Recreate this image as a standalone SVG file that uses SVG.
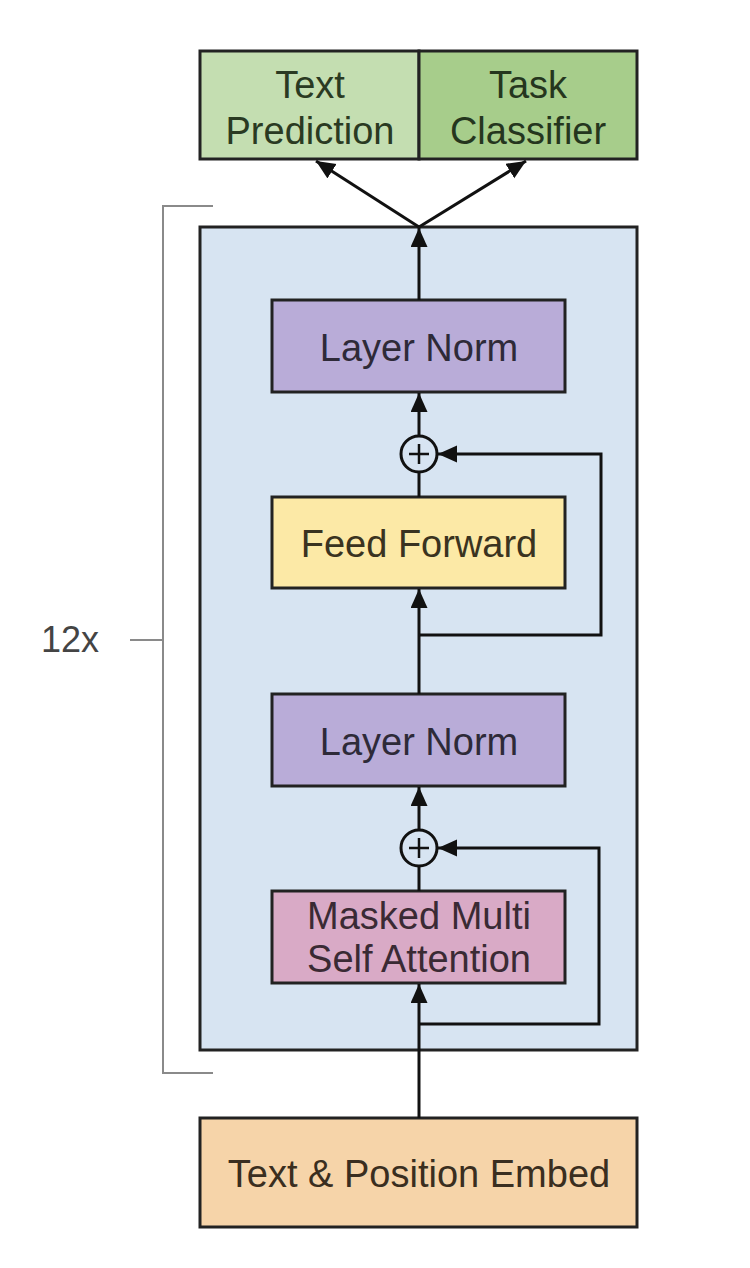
<svg xmlns="http://www.w3.org/2000/svg" width="750" height="1268" viewBox="0 0 750 1268">
<defs>
<marker id="arr" markerUnits="userSpaceOnUse" markerWidth="22" markerHeight="20" refX="19" refY="8.5" orient="auto">
<path d="M0,0 L19,8.5 L0,17 Z" fill="#111"/>
</marker>
<style>
.box{stroke:#222;stroke-width:3}
.t{font-family:"Liberation Sans",Arial,sans-serif;font-size:38px;text-anchor:middle}
.c{fill:none;stroke:#111;stroke-width:3}
.br{fill:none;stroke:#8a8a8a;stroke-width:2}
</style>
</defs>
<rect width="750" height="1268" fill="#ffffff"/>
<g id="bracket">
<path class="br" d="M213,206 H163 V1073 H213 M130,640 H163"/>
<text x="70" y="652" style="font-family:'Liberation Sans',Arial,sans-serif;font-size:36px;text-anchor:middle" fill="#444">12x</text>
</g>
<g id="block">
<rect class="box" x="200" y="227" width="437" height="823" fill="#d7e4f2"/>
</g>
<g id="text-prediction">
<rect class="box" x="200" y="51" width="219" height="108" fill="#c4deb1"/>
<text class="t" x="310" y="98" fill="#2a3a22">Text</text>
<text class="t" x="310" y="144" fill="#2a3a22">Prediction</text>
</g>
<g id="task-classifier">
<rect class="box" x="419" y="51" width="218" height="108" fill="#a7cd8b"/>
<text class="t" x="528" y="98" fill="#25361e">Task</text>
<text class="t" x="528" y="144" fill="#25361e">Classifier</text>
</g>
<g id="layer-norm-1">
<rect class="box" x="272" y="300" width="293" height="92" fill="#b9acd8"/>
<text class="t" x="419" y="361" fill="#2e2a38">Layer Norm</text>
</g>
<g id="add-1">
<circle cx="419" cy="454" r="18" fill="#d7e4f2" stroke="#111" stroke-width="3"/>
<path d="M409,454 H429 M419,444 V464" stroke="#111" stroke-width="2.5"/>
</g>
<g id="feed-forward">
<rect class="box" x="272" y="497" width="293" height="91" fill="#fce9a6"/>
<text class="t" x="419" y="557" fill="#3a3320">Feed Forward</text>
</g>
<g id="layer-norm-2">
<rect class="box" x="272" y="694" width="293" height="92" fill="#b9acd8"/>
<text class="t" x="419" y="755" fill="#2e2a38">Layer Norm</text>
</g>
<g id="add-2">
<circle cx="419" cy="848" r="18" fill="#d7e4f2" stroke="#111" stroke-width="3"/>
<path d="M409,848 H429 M419,838 V858" stroke="#111" stroke-width="2.5"/>
</g>
<g id="masked-attention">
<rect class="box" x="272" y="891" width="293" height="92" fill="#d9aac6"/>
<text class="t" x="419" y="929" fill="#3a2a34">Masked Multi</text>
<text class="t" x="419" y="972" fill="#3a2a34">Self Attention</text>
</g>
<g id="embed">
<rect class="box" x="200" y="1118" width="437" height="109" fill="#f6d4a9"/>
<text class="t" x="419" y="1187" fill="#3a2e20">Text &amp; Position Embed</text>
</g>
<g id="connectors">
<path class="c" d="M419,1118 V984" marker-end="url(#arr)"/>
<path class="c" d="M419,1024 H599 V848 H438" marker-end="url(#arr)"/>
<path class="c" d="M419,891 V866"/>
<path class="c" d="M419,830 V787" marker-end="url(#arr)"/>
<path class="c" d="M419,694 V589" marker-end="url(#arr)"/>
<path class="c" d="M419,635 H601 V454 H438" marker-end="url(#arr)"/>
<path class="c" d="M419,497 V472"/>
<path class="c" d="M419,436 V393" marker-end="url(#arr)"/>
<path class="c" d="M419,300 V228" marker-end="url(#arr)"/>
<path class="c" d="M419,227 L316,161" marker-end="url(#arr)"/>
<path class="c" d="M419,227 L526,161" marker-end="url(#arr)"/>
</g>
</svg>
